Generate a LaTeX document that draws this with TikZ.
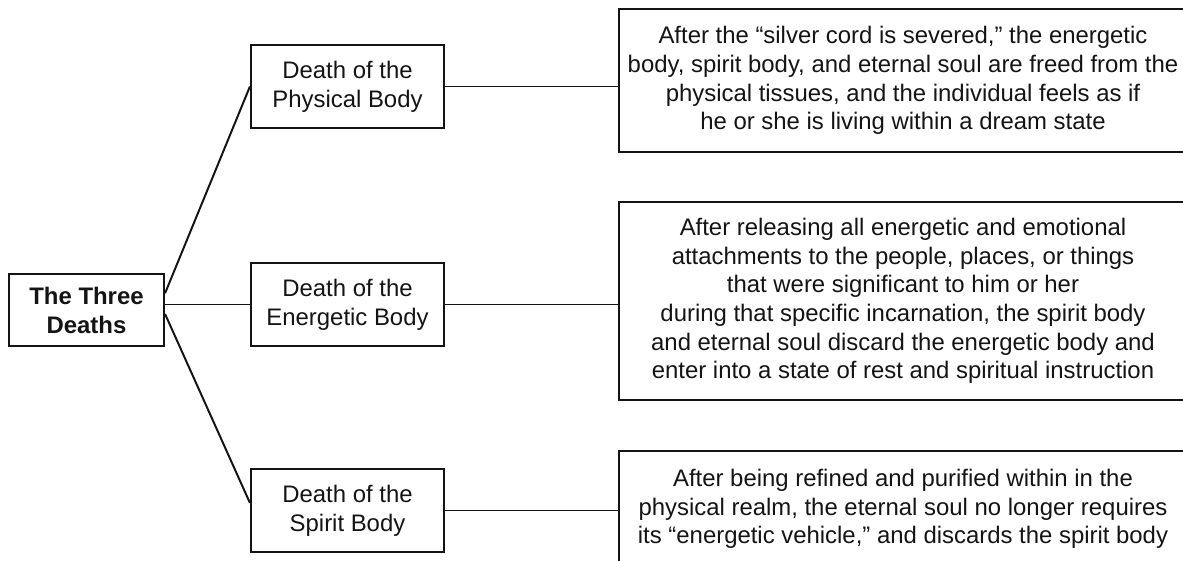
\documentclass[tikz,border=0pt]{standalone}
\usepackage{fontspec}
\setmainfont{Liberation Sans}
\definecolor{Ink}{HTML}{141414}

\begin{document}
\begin{tikzpicture}[
  x=0.025cm, y=-0.025cm,
  font=\fontsize{17}{20.4}\selectfont, text=Ink,
  box/.style={draw=Ink, line width=1.5pt, align=center, inner sep=0pt, fill=white},
  rootbox/.style={box, minimum width=3.875cm, minimum height=1.8cm, font=\fontsize{17}{20.6}\selectfont\bfseries},
  deathbox/.style={box, minimum width=4.825cm, minimum height=2.075cm, font=\fontsize{17}{20.6}\selectfont},
  descbox/.style={box, minimum width=14.2cm},
  link/.style={draw=Ink, line width=1.4pt}
]
\useasboundingbox (0,0) rectangle (1183,560);
\clip (0,0) rectangle (1183,560);

\node[rootbox] (root) at (86.5,310) {The Three\\Deaths};

\node[deathbox] (phys) at (347.5,86.5) {Death of the\\Physical Body};
\node[deathbox] (ener) at (347.5,304.5) {Death of the\\Energetic Body};
\node[deathbox] (spir) at (347.5,510.5) {Death of the\\Spirit Body};

\node[descbox, minimum height=3.575cm] (physdesc) at (903,80.5) {After the “silver cord is severed,” the energetic\\body, spirit body, and eternal soul are freed from the\\physical tissues, and the individual feels as if\\he or she is living within a dream state};
\node[descbox, minimum height=4.95cm] (enerdesc) at (903,301) {After releasing all energetic and emotional\\attachments to the people, places, or things\\that were significant to him or her\\during that specific incarnation, the spirit body\\and eternal soul discard the energetic body and\\enter into a state of rest and spiritual instruction};
\node[descbox, minimum height=2.9cm] (spirdesc) at (903,509) {After being refined and purified within in the\\physical realm, the eternal soul no longer requires\\its “energetic vehicle,” and discards the spirit body};

\draw[link] ([yshift=0.42cm]root.east) -- (phys.west);
\draw[link] (root.east |- ener.west) -- (ener.west);
\draw[link] ([yshift=-0.1cm]root.east) -- ([yshift=0.19cm]spir.west);
\draw[link] (phys.east) -- (phys.east -| physdesc.west);
\draw[link] (ener.east) -- (ener.east -| enerdesc.west);
\draw[link] (spir.east) -- (spir.east -| spirdesc.west);
\end{tikzpicture}
\end{document}
